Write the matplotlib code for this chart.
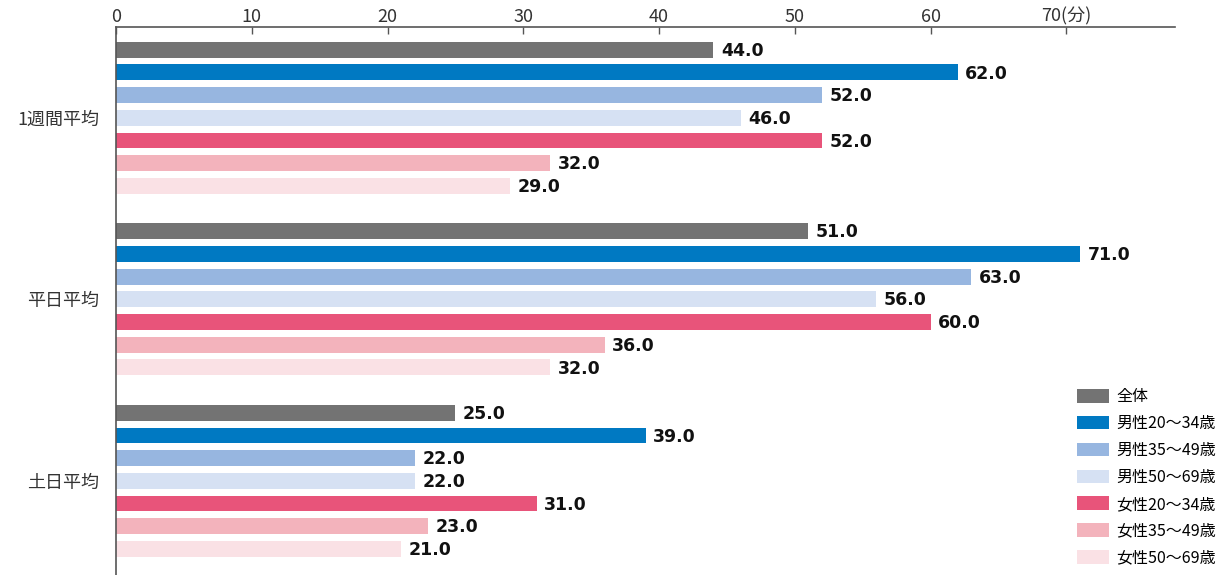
import numpy as np
import matplotlib
matplotlib.use("Agg")
import matplotlib.pyplot as plt
from matplotlib.patches import Patch

plt.rcParams['font.family'] = ['Noto Sans CJK JP', 'DejaVu Sans']

groups = ["1週間平均", "平日平均", "土日平均"]
series = ["全体", "男性20〜34歳", "男性35〜49歳", "男性50〜69歳",
          "女性20〜34歳", "女性35〜49歳", "女性50〜69歳"]
colors = ["#737373", "#0079C2", "#97B6E0", "#D6E1F3",
          "#E8547A", "#F3B3BC", "#FAE1E5"]
week = [44.0, 62.0, 52.0, 46.0, 52.0, 32.0, 29.0]
weekday = [51.0, 71.0, 63.0, 56.0, 60.0, 36.0, 32.0]
weekend = [25.0, 39.0, 22.0, 22.0, 31.0, 23.0, 21.0]
values = [week, weekday, weekend]
xticks = [0, 10, 20, 30, 40, 50, 60, 70]
xtick_labels = ["0", "10", "20", "30", "40", "50", "60", "70(分)"]

fig = plt.figure(figsize=(12.24, 5.75), dpi=100)
ax = fig.add_axes([116 / 1224, 0.0, (1175 - 116) / 1224, 1 - 27 / 575])

n = len(series)
gap = n + 1
for g, vals in enumerate(values):
    for i, v in enumerate(vals):
        y = g * gap + i
        ax.barh(y, v, height=0.7, color=colors[i], zorder=2)
        ax.text(v + 0.55, y + 0.05, f"{v:.1f}", va="center", ha="left",
                fontsize=12.5, fontweight="bold", color="#111111",
                family="DejaVu Sans")

ax.set_xlim(0, 78)
ax.set_ylim(22 + 1.15, -1.0)

ax.xaxis.tick_top()
ax.set_xticks(xticks)
ax.set_xticklabels(xtick_labels, fontsize=13, color="#333333")
ax.tick_params(axis="x", direction="in", length=5, width=1, color="#555555", pad=1)

centers = [g * gap + (n - 1) / 2 for g in range(len(groups))]
ax.set_yticks(centers)
ax.set_yticklabels(groups, fontsize=13, color="#333333")
ax.tick_params(axis="y", length=0, pad=12)

for side in ["right", "bottom"]:
    ax.spines[side].set_visible(False)
for side in ["top", "left"]:
    ax.spines[side].set_color("#555555")
    ax.spines[side].set_linewidth(1.2)

handles = [Patch(facecolor=c, edgecolor="none") for c in colors]
fig.legend(handles, series, loc="upper left", bbox_to_anchor=(1074 / 1224, 1 - 385 / 575),
           frameon=False, fontsize=11.5, handlelength=2.0, handleheight=0.95,
           labelspacing=0.62, handletextpad=0.45, borderaxespad=0, borderpad=0.2)

fig.savefig("out.png", dpi=100)
